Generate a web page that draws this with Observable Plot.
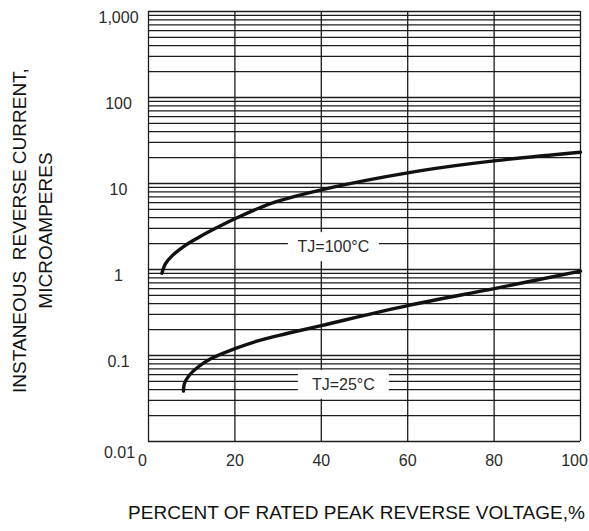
<!DOCTYPE html>
<html><head><meta charset="utf-8">
<script src="https://cdn.jsdelivr.net/npm/d3@7"></script>
<script src="https://cdn.jsdelivr.net/npm/@observablehq/plot@0.6"></script>
<style>body{margin:0;background:#fff} svg{display:block}</style>
</head><body>
<div id="chart"></div>
<script>
// Tick values and labels
const xTicks = [0, 20, 40, 60, 80, 100];
const yTicks = [0.01, 0.1, 1, 10, 100, 1000];
const yTickLabels = ["0.01", "0.1", "1", "10", "100", "1,000"];
const gridDecades = [0.01, 0.1, 1, 10, 100];
const gridMultipliers = [1, 2, 3, 4, 5, 6, 7, 8, 9];

// Curve TJ=100°C
const tj100X = [3.1, 3.9, 5.5, 8.2, 11.4, 15.3, 20, 25.5, 29.4, 40, 60, 80, 100];
const tj100Y = [0.906, 1.16, 1.45, 1.86, 2.33, 2.97, 3.89, 5.15, 6.1, 8.45, 13.3, 18.3, 23.1];

// Curve TJ=25°C
const tj25X = [8.1, 8.3, 9.4, 11.4, 14.5, 20, 25.5, 31.8, 40, 60, 80, 100];
const tj25Y = [0.0385, 0.047, 0.0585, 0.073, 0.092, 0.12, 0.149, 0.179, 0.223, 0.38, 0.6, 0.956];

// Curve labels (annotation anchors in data units)
const labelText = ["TJ=100°C", "TJ=25°C"];
const labelX = [42.8, 45.1];
const labelY = [2, 0.05];

const xTitle = "PERCENT OF RATED PEAK REVERSE VOLTAGE,%";
const yTitle = "INSTANEOUS\u00a0 REVERSE CURRENT,\nMICROAMPERES";

const gridValues = gridDecades.flatMap(d => gridMultipliers.map(m => +(d * m).toPrecision(3))).concat([1000]);

const series = [
  ...tj100X.map((x, i) => ({series: labelText[0], x, y: tj100Y[i]})),
  ...tj25X.map((x, i) => ({series: labelText[1], x, y: tj25Y[i]}))
];

function labelBoxes(...args) {
  const scales = args.find(a => a && typeof a.x === "function" && typeof a.y === "function");
  const g = d3.create("svg:g");
  labelText.forEach((t, i) => {
    const cx = scales.x(labelX[i]), cy = scales.y(labelY[i]);
    g.append("rect")
      .attr("x", cx - 45).attr("y", cy - 11)
      .attr("width", 91).attr("height", 29)
      .attr("fill", "white");
  });
  return g.node();
}

const ink = "#1c1c1c";
const textInk = "#2a2a2a";
const first = xTicks[0], last = xTicks[xTicks.length - 1];

const chart = Plot.plot({
  width: 589,
  height: 531,
  marginLeft: 148,
  marginRight: 9,
  marginTop: 11,
  marginBottom: 90,
  style: {fontFamily: "'Liberation Sans', Arial, sans-serif", background: "#fff"},
  x: {domain: [0, 100], axis: null},
  y: {type: "log", domain: [0.01, 1000], axis: null},
  marks: [
    Plot.ruleY(gridValues, {y: d => d, stroke: ink, strokeWidth: 1.3}),
    Plot.ruleX(xTicks, {x: d => d, stroke: ink, strokeWidth: 1.3}),
    labelBoxes,
    Plot.line(series, {x: "x", y: "y", z: "series", curve: "catmull-rom", stroke: "#111", strokeWidth: 3.4}),
    Plot.text(labelText, {x: (d, i) => labelX[i], y: (d, i) => labelY[i], text: d => d, dy: 3, fontSize: 16, fill: textInk}),
    Plot.text(yTicks, {y: d => d, text: (d, i) => yTickLabels[i], filter: d => d !== 0.01, frameAnchor: "left", dx: -30, dy: 6, textAnchor: "middle", fontSize: 16, fill: textInk}),
    Plot.text(yTicks, {y: d => d, text: (d, i) => yTickLabels[i], filter: d => d === 0.01, frameAnchor: "left", dx: -29, dy: 11, textAnchor: "middle", fontSize: 16, fill: textInk}),
    Plot.text(xTicks, {x: d => d, text: d => String(d), filter: d => d !== first && d !== last, frameAnchor: "bottom", dy: 24, fontSize: 16, fill: textInk}),
    Plot.text(xTicks, {x: d => d, text: d => String(d), filter: d => d === first, frameAnchor: "bottom", dx: -6, dy: 24, fontSize: 16, fill: textInk}),
    Plot.text(xTicks, {x: d => d, text: d => String(d), filter: d => d === last, frameAnchor: "bottom", dx: -6, dy: 24, fontSize: 16, fill: textInk}),
    Plot.text([yTitle], {text: d => d, frameAnchor: "left", dx: -118, dy: 4, rotate: -90, lineHeight: 1.38, textAnchor: "middle", fontSize: 19, fill: "#111"}),
    Plot.text([xTitle], {text: d => d, frameAnchor: "bottom", dx: -8, dy: 77, textAnchor: "middle", fontSize: 19, fill: "#111"})
  ]
});
document.getElementById("chart").appendChild(chart);
</script>
</body></html>
